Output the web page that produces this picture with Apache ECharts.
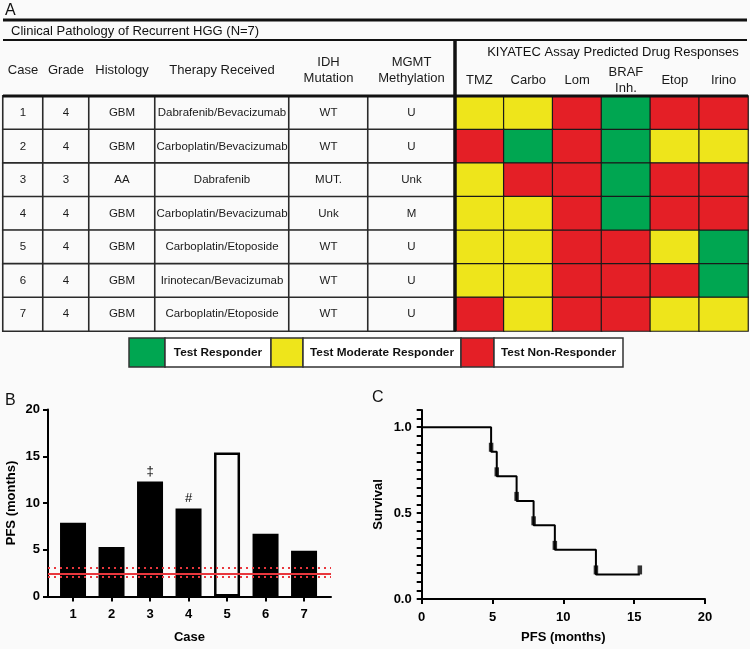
<!DOCTYPE html>
<html><head><meta charset="utf-8">
<script src="https://cdn.jsdelivr.net/npm/echarts@6/dist/echarts.min.js"></script>
<style>html,body{margin:0;padding:0;background:#fafafa}#c{width:750px;height:649px}</style>
</head><body><div id="c"></div>
<script>
// ---------------- data ----------------
const cases = ['1','2','3','4','5','6','7'];
const grades = ['4','4','3','4','4','4','4'];
const histology = ['GBM','GBM','AA','GBM','GBM','GBM','GBM'];
const therapy = ['Dabrafenib/Bevacizumab','Carboplatin/Bevacizumab','Dabrafenib','Carboplatin/Bevacizumab','Carboplatin/Etoposide','Irinotecan/Bevacizumab','Carboplatin/Etoposide'];
const idhMutation = ['WT','WT','MUT.','Unk','WT','WT','WT'];
const mgmtMethylation = ['U','U','Unk','M','U','U','U'];
const tableHeaders = ['Case','Grade','Histology','Therapy Received','IDH\nMutation','MGMT\nMethylation'];
const tableTitle = 'Clinical Pathology of Recurrent HGG (N=7)';
const assayTitle = 'KIYATEC Assay Predicted Drug Responses';
const drugs = ['TMZ','Carbo','Lom','BRAF\nInh.','Etop','Irino'];
// 0 = non-responder, 1 = moderate responder, 2 = responder
const drugResponses = [
  [1,1,0,2,0,0],
  [0,2,0,2,1,1],
  [1,0,0,2,0,0],
  [1,1,0,2,0,0],
  [1,1,0,0,1,2],
  [1,1,0,0,0,2],
  [0,1,0,0,1,1]
];
const responseLabels = ['Test Non-Responder','Test Moderate Responder','Test Responder'];
const legendOrder = [2,1,0];

const pfsCases = [1,2,3,4,5,6,7];
const pfsMonths = [7.9,5.3,12.3,9.4,15.4,6.7,4.9];
const pfsProgressed = [true,true,true,true,false,true,true];
const pfsMarks = ['','','‡','#','','',''];
const medianPFS = 2.4;
const medianCI = [2.1, 3.1];

const kmTime = [0,4.9,5.3,6.7,7.9,9.4,12.3,15.4];
const kmSurvival = [1,0.857,0.714,0.571,0.429,0.286,0.143,0.143];
const kmMarkTime = [4.9,5.3,6.7,7.9,9.4,12.3,15.4];
const kmMarkSurvival = [0.857,0.714,0.571,0.429,0.286,0.143,0.143];
const survivalTickLabels = [0, 0.5, 1.0];

// ---------------- styling / layout ----------------
const FONT = '"Liberation Sans", Arial, Helvetica, sans-serif';
const BG = '#fafafa';
const RESP_COLORS = ['#e41f26','#eee51b','#00a651'];
const colEdges = [3,43,89,155,289,368,455];
const TABLE_TOP = 96, TABLE_H = 235;

const tableCols = [cases, grades, histology, therapy, idhMutation, mgmtMethylation];
const grid = [], xAxis = [], yAxis = [], series = [];

tableCols.forEach((col, c) => {
  grid.push({left: colEdges[c], width: colEdges[c+1]-colEdges[c], top: TABLE_TOP, height: TABLE_H});
  xAxis.push({type:'category', gridIndex:c, data:[tableHeaders[c]], position:'top',
    axisLine:{show:false}, axisTick:{show:false},
    axisLabel:{interval:0, margin:26, verticalAlign:'middle', fontSize:13, lineHeight:16, color:'#1a1a1a'}});
  yAxis.push({type:'category', gridIndex:c, data:cases, inverse:true, show:false});
  series.push({type:'heatmap', xAxisIndex:c, yAxisIndex:c,
    data: col.map((v,i)=>[0,i,0]),
    itemStyle:{color:BG, borderColor:'#2a2a2a', borderWidth:1.6},
    label:{show:true, fontSize:11.5, color:'#1a1a1a', formatter: p => col[p.data[1]]},
    emphasis:{disabled:true}});
});

// drug response heatmap
const HM = 6;
grid.push({left:455, width:293, top:TABLE_TOP, height:TABLE_H});
xAxis.push({type:'category', gridIndex:HM, data:drugs, position:'top',
  axisLine:{show:false}, axisTick:{show:false},
  axisLabel:{interval:0, margin:16, verticalAlign:'middle', fontSize:13, lineHeight:16, color:'#1a1a1a'}});
yAxis.push({type:'category', gridIndex:HM, data:cases, inverse:true, show:false});
const hmData = [];
drugResponses.forEach((row, r) => row.forEach((v, c) => hmData.push([c, r, v])));
series.push({type:'heatmap', xAxisIndex:HM, yAxisIndex:HM, data:hmData,
  itemStyle:{borderColor:'#1a1a1a', borderWidth:1.2}, emphasis:{disabled:true}});

// panel B
const GB = 7;
grid.push({left:48, right:419, top:409.5, bottom:52.5});
xAxis.push({type:'value', gridIndex:GB, min:0.35, max:7.7,
  axisLine:{show:true, lineStyle:{color:'#000', width:2}},
  axisTick:{show:true, customValues:pfsCases, length:5, lineStyle:{color:'#000', width:2}},
  axisLabel:{customValues:pfsCases, fontSize:13, fontWeight:'bold', color:'#000', margin:11},
  splitLine:{show:false},
  name:'Case', nameLocation:'middle', nameGap:34, nameTextStyle:{fontSize:13, fontWeight:'bold', color:'#000'}});
yAxis.push({type:'value', gridIndex:GB, min:0, max:20, interval:5,
  axisLine:{show:true, lineStyle:{color:'#000', width:2}},
  axisTick:{show:true, length:5, lineStyle:{color:'#000', width:2}},
  axisLabel:{fontSize:13, fontWeight:'bold', color:'#000', margin:8},
  splitLine:{show:false},
  name:'PFS (months)', nameLocation:'middle', nameGap:30, nameTextStyle:{fontSize:13, fontWeight:'bold', color:'#000'}});
const red = '#e8373d';
series.push({type:'bar', xAxisIndex:GB, yAxisIndex:GB, barWidth:26,
  data: pfsMonths.map((v,i)=>({
    value:[pfsCases[i], v],
    itemStyle: pfsProgressed[i] ? {color:'#000'} : {color:'rgba(0,0,0,0)', borderColor:'#000', borderWidth:2.5},
    label:{show: pfsMarks[i] !== '', position:'top', distance:4, formatter: pfsMarks[i], fontSize:13, color:'#000'}
  })),
  emphasis:{disabled:true},
  markLine:{silent:true, symbol:'none', label:{show:false}, z:10,
    data:[
      {yAxis: medianPFS, lineStyle:{color:red, width:2, type:'solid'}},
      {yAxis: medianCI[0], lineStyle:{color:red, width:2, type:[2,4]}},
      {yAxis: medianCI[1], lineStyle:{color:red, width:2, type:[2,4]}}
    ]}
});

// panel C
const GC = 8;
grid.push({left:421.7, right:45, top:410, bottom:50});
xAxis.push({type:'value', gridIndex:GC, min:0, max:20, interval:5,
  axisLine:{show:true, lineStyle:{color:'#000', width:2}},
  axisTick:{show:true, length:5, lineStyle:{color:'#000', width:2}},
  axisLabel:{fontSize:13, fontWeight:'bold', color:'#000', margin:12},
  splitLine:{show:false},
  name:'PFS (months)', nameLocation:'middle', nameGap:32, nameTextStyle:{fontSize:13, fontWeight:'bold', color:'#000'}});
yAxis.push({type:'value', gridIndex:GC, min:0, max:1.1, interval:0.05,
  axisLine:{show:true, lineStyle:{color:'#000', width:2}},
  axisTick:{show:true, length:5, lineStyle:{color:'#000', width:2}},
  axisLabel:{customValues:survivalTickLabels, fontSize:13, fontWeight:'bold', color:'#000', margin:10,
    formatter: v => survivalTickLabels.some(t => Math.abs(t - v) < 1e-6) ? v.toFixed(1) : ''},
  splitLine:{show:false},
  name:'Survival', nameLocation:'middle', nameGap:37, nameTextStyle:{fontSize:13, fontWeight:'bold', color:'#000'}});
series.push({type:'line', xAxisIndex:GC, yAxisIndex:GC, step:'end', symbol:'none',
  data: kmTime.map((t,i)=>[t, kmSurvival[i]]),
  lineStyle:{color:'#000', width:2}, emphasis:{disabled:true}});
series.push({type:'scatter', xAxisIndex:GC, yAxisIndex:GC, symbol:'rect', symbolSize:[4.5,9], symbolOffset:[0,-4.5],
  data: kmMarkTime.map((t,i)=>[t, kmMarkSurvival[i]]),
  itemStyle:{color:'#000'}, emphasis:{disabled:true}});

// ---------------- decorations ----------------
const txt = (x, y, text, size, opts) => Object.assign({type:'text', x, y, z:100,
  style:{text, font:(opts && opts.weight ? opts.weight + ' ' : '') + size + 'px ' + FONT, fill:'#111',
    align:(opts && opts.align) || 'left', verticalAlign:'middle'}});
const line = (x1,y1,x2,y2,w) => ({type:'line', z:100, shape:{x1,y1,x2,y2}, style:{stroke:'#111', lineWidth:w}});

const graphic = [
  txt(5, 11, 'A', 16),
  line(3,20,747,20,3),
  txt(11, 31, tableTitle, 13),
  line(3,40,747,40,2),
  txt(613, 52.5, assayTitle, 13, {align:'center'}),
  line(3,96,748,96,3),
  line(455,40,455,331,3.5),
  txt(5, 401, 'B', 16),
  txt(372, 398, 'C', 16)
];
// legend
const legendSegs = [[129,165,271],[271,303,461],[461,494,623]];
legendOrder.forEach((k, i) => {
  const [a,b,e] = legendSegs[i];
  graphic.push({type:'rect', z:100, shape:{x:a, y:338, width:b-a, height:29}, style:{fill:RESP_COLORS[k], stroke:'#333', lineWidth:1.5}});
  graphic.push({type:'rect', z:100, shape:{x:b, y:338, width:e-b, height:29}, style:{fill:'#fff', stroke:'#333', lineWidth:1.5}});
  graphic.push(txt((b+e)/2, 352.5, responseLabels[k], 11.8, {align:'center', weight:'bold'}));
});

const chart = echarts.init(document.getElementById('c'), null, {renderer:'canvas'});
chart.setOption({
  backgroundColor: BG,
  animation: false,
  textStyle: {fontFamily: FONT},
  grid, xAxis, yAxis, series, graphic,
  visualMap: {type:'piecewise', show:false, seriesIndex:HM, dimension:2,
    pieces: RESP_COLORS.map((color, v) => ({value:v, color}))}
});
</script></body></html>
